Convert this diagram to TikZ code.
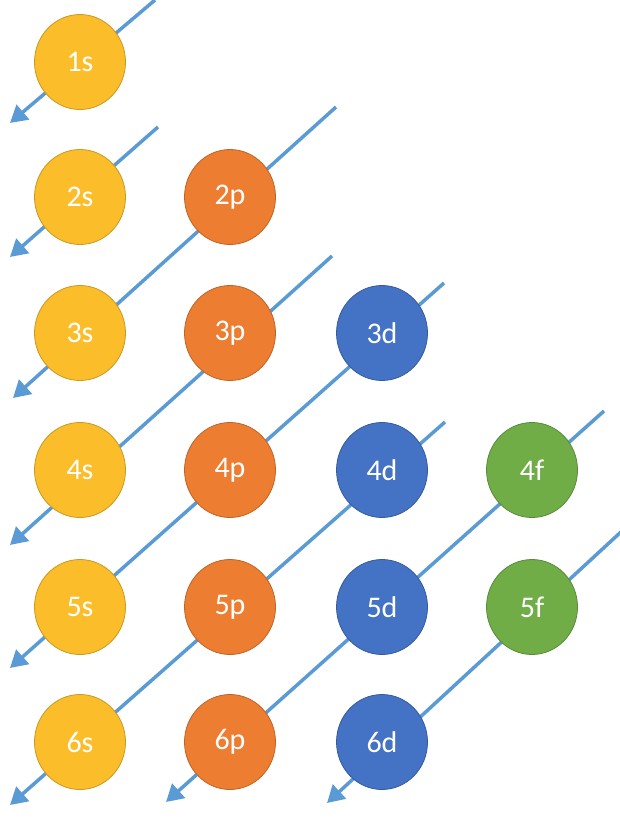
\documentclass[tikz,border=0pt]{standalone}
\usepackage{fontspec}
\setmainfont{Carlito}
\usetikzlibrary{arrows.meta,shapes.geometric,backgrounds}

\definecolor{sgold}{HTML}{FBBE2A}
\definecolor{porange}{HTML}{ED7D31}
\definecolor{dblue}{HTML}{4472C4}
\definecolor{fgreen}{HTML}{70AD47}
\definecolor{flowblue}{HTML}{5B9BD5}

\begin{document}
\begin{tikzpicture}[
    x=1pt, y=-1pt,
    orb/.style={
        ellipse, minimum width=91pt, minimum height=95pt,
        inner sep=0pt, line width=0.8pt, text=white,
        font=\fontsize{30}{33}\selectfont
    },
    sorb/.style={orb, fill=sgold, draw=sgold!80!black},
    porb/.style={orb, fill=porange, draw=porange!80!black},
    dorb/.style={orb, fill=dblue, draw=dblue!80!black},
    forb/.style={orb, fill=fgreen, draw=fgreen!80!black},
    filling/.style={-{Triangle[length=17pt,width=19pt]}, line width=3.5pt, draw=flowblue}
]
\clip (0,0) rectangle (620,818);

% s column
\node[sorb] (n1s) at (80,62) {1s};
\node[sorb] (n2s) at (80,197) {2s};
\node[sorb] (n3s) at (80,333) {3s};
\node[sorb] (n4s) at (80,470) {4s};
\node[sorb] (n5s) at (80,607) {5s};
\node[sorb] (n6s) at (80,742) {6s};

% p column
\node[porb] (n2p) at (230,197) {2p};
\node[porb] (n3p) at (230,333) {3p};
\node[porb] (n4p) at (230,470) {4p};
\node[porb] (n5p) at (230,607) {5p};
\node[porb] (n6p) at (230,742) {6p};

% d column
\node[dorb] (n3d) at (382,333) {3d};
\node[dorb] (n4d) at (382,470) {4d};
\node[dorb] (n5d) at (382,607) {5d};
\node[dorb] (n6d) at (382,742) {6d};

% f column
\node[forb] (n4f) at (532,470) {4f};
\node[forb] (n5f) at (532,607) {5f};

% Diagonals (start and tip)
\coordinate (in1) at (155,0);   \coordinate (out1) at (10,123);
\coordinate (in2) at (158,127); \coordinate (out2) at (10,257);
\coordinate (in3) at (336,107); \coordinate (out3) at (13,398);
\coordinate (in4) at (332,256); \coordinate (out4) at (10,545);
\coordinate (in5) at (444,283); \coordinate (out5) at (10,668);
\coordinate (in6) at (445,422); \coordinate (out6) at (10,805);
\coordinate (in7) at (604,411); \coordinate (out7) at (166,802);
\coordinate (in8) at (622,531); \coordinate (out8) at (327,803);

\begin{scope}[on background layer]
\draw[filling] (in1) -- (out1);
\draw[filling] (in2) -- (out2);
\draw[filling] (in3) -- (out3);
\draw[filling] (in4) -- (out4);
\draw[filling] (in5) -- (out5);
\draw[filling] (in6) -- (out6);
\draw[filling] (in7) -- (out7);
\draw[filling] (in8) -- (out8);
\end{scope}

\end{tikzpicture}
\end{document}
